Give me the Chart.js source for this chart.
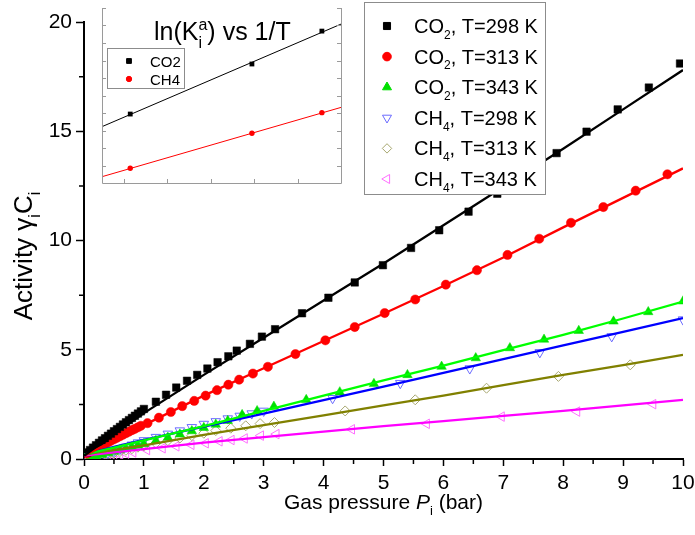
<!DOCTYPE html>
<html>
<head>
<meta charset="utf-8">
<script src="https://cdn.jsdelivr.net/npm/chart.js@4.4.0/dist/chart.umd.min.js"></script>
<style>
  html, body { margin: 0; padding: 0; background: #fff; }
  #wrap { position: relative; width: 695px; height: 535px; }
  canvas { position: absolute; left: 0; top: 0; }
</style>
</head>
<body>
<div id="wrap">
  <canvas id="main" width="695" height="535"></canvas>
  <canvas id="inset" width="695" height="535"></canvas>
</div>
<script>
// Donnees : pression (bar) et activite
const pCO2_298 = [0.05,0.1,0.15,0.2,0.25,0.3,0.35,0.4,0.45,0.5,0.55,0.6,0.65,0.7,0.75,0.8,0.85,0.9,0.95,1.0,
  1.2,1.37,1.54,1.72,1.89,2.06,2.23,2.41,2.55,2.77,2.97,3.19,
  3.64,4.08,4.52,4.99,5.46,5.93,6.42,6.9,7.4,7.89,8.39,8.91,9.43,9.95];
const aCO2_298 = [0.30,0.41,0.52,0.63,0.74,0.85,0.95,1.06,1.16,1.27,1.37,1.47,1.58,1.68,1.78,1.88,1.98,2.08,2.18,2.29,
  2.62,2.94,3.27,3.58,3.85,4.14,4.43,4.70,4.96,5.27,5.60,5.94,
  6.67,7.38,8.08,8.87,9.66,10.47,11.32,12.14,13.05,14.0,14.98,16.0,17.0,18.1];

const pCO2_313 = [0.05,0.1,0.15,0.2,0.25,0.3,0.35,0.4,0.45,0.5,0.55,0.6,0.65,0.7,0.75,0.8,0.85,0.9,0.95,
  1.06,1.25,1.45,1.64,1.84,2.03,2.22,2.41,2.59,2.82,3.07,
  3.53,4.03,4.52,5.02,5.53,6.04,6.56,7.07,7.6,8.13,8.67,9.21,9.74];
const aCO2_313 = [0.25,0.32,0.40,0.47,0.54,0.61,0.69,0.76,0.83,0.90,0.97,1.04,1.11,1.18,1.25,1.32,1.38,1.45,1.52,
  1.64,1.89,2.15,2.42,2.66,2.90,3.15,3.40,3.63,3.91,4.22,
  4.80,5.43,6.04,6.68,7.30,7.98,8.64,9.34,10.08,10.81,11.53,12.28,13.03];

const pCO2_343 = [0.1,0.2,0.3,0.4,0.5,0.6,0.7,0.8,0.9,1.0,
  1.2,1.4,1.6,1.8,2.0,2.2,2.4,2.64,2.89,3.17,
  3.71,4.27,4.84,5.4,5.97,6.54,7.11,7.68,8.26,8.84,9.42,10.0];
const aCO2_343 = [0.05,0.13,0.20,0.27,0.34,0.41,0.48,0.55,0.62,0.69,
  0.84,0.98,1.13,1.28,1.43,1.58,1.75,2.02,2.20,2.40,
  2.71,3.06,3.44,3.85,4.23,4.62,5.08,5.47,5.87,6.30,6.73,7.22];

const pCH4_298 = [0.1,0.2,0.3,0.4,0.5,0.6,0.7,0.8,0.9,1.0,
  1.2,1.4,1.6,1.8,2.0,2.2,2.4,2.6,2.8,3.0,
  4.15,5.28,6.44,7.61,8.81,10.0];
const aCH4_298 = [0.02,0.10,0.18,0.27,0.35,0.45,0.55,0.65,0.75,0.85,
  1.0,1.15,1.3,1.45,1.6,1.72,1.85,1.97,2.08,2.2,
  2.78,3.47,4.14,4.88,5.61,6.38];

const pCH4_313 = [0.1,0.2,0.3,0.4,0.5,0.6,0.7,0.8,0.9,1.0,
  1.2,1.4,1.6,1.8,2.0,2.2,2.45,2.7,2.94,3.18,
  4.36,5.53,6.72,7.92,9.12];
const aCH4_313 = [0.0,0.07,0.14,0.20,0.27,0.34,0.40,0.47,0.54,0.60,
  0.72,0.84,0.96,1.07,1.18,1.30,1.41,1.52,1.62,1.67,
  2.20,2.71,3.24,3.78,4.31];

const pCH4_343 = [0.1,0.2,0.3,0.4,0.5,0.6,0.7,
  0.82,1.05,1.31,1.54,1.79,2.03,2.26,2.46,2.68,2.95,3.21,
  4.47,5.72,6.97,8.23,9.5];
const aCH4_343 = [0.0,0.04,0.08,0.12,0.16,0.20,0.25,
  0.30,0.41,0.49,0.58,0.65,0.72,0.81,0.87,0.94,1.07,1.14,
  1.36,1.61,1.94,2.17,2.51];

// courbes ajustees
const fitP = [0, 0.5, 1, 2, 3, 4, 5, 6, 7, 8, 9, 10];
const fitCO2_298 = [0.15, 1.15, 2.1, 3.85, 5.55, 7.25, 8.95, 10.7, 12.45, 14.2, 16.0, 17.8];
const fitCO2_313 = [0.15, 0.85, 1.55, 2.9, 4.15, 5.4, 6.65, 7.92, 9.22, 10.6, 11.95, 13.3];
const fitCO2_343 = [0.2, 0.52, 0.85, 1.5, 2.2, 2.9, 3.6, 4.27, 4.98, 5.68, 6.43, 7.2];
const fitCH4_298 = [0.2, 0.55, 0.87, 1.48, 2.08, 2.69, 3.31, 3.94, 4.57, 5.2, 5.82, 6.45];
const fitCH4_313 = [0.2, 0.42, 0.62, 1.1, 1.55, 2.0, 2.45, 2.9, 3.38, 3.85, 4.3, 4.77];
const fitCH4_343 = [0.15, 0.3, 0.45, 0.75, 1.0, 1.25, 1.5, 1.73, 1.97, 2.2, 2.45, 2.71];

const xTickValues = [0,1,2,3,4,5,6,7,8,9,10];
const yTickValues = [0,5,10,15,20];

// encart ln(K) vs 1/T (1000/T)
const invT = [2.915, 3.195, 3.356];
const lnK_CO2 = [1.97, 3.40, 4.34];
const lnK_CH4 = [0.42, 1.42, 2.01];
const fitInvT = [2.85, 3.40];
const fitLnK_CO2 = [1.61, 4.54];
const fitLnK_CH4 = [0.18, 2.16];

const FAM = '"Liberation Sans", Arial, sans-serif';

function pts(xs, ys) {
  return xs.map((x, i) => ({ x: x, y: ys[i] }));
}

const series = [
  { p: pCO2_298, a: aCO2_298, fit: fitCO2_298, gas: 'CO', sub: '2', T: '298',
    mark: '#000000', line: '#000000', ps: 'rect', r: 5.3, rot: 0, filled: true },
  { p: pCO2_313, a: aCO2_313, fit: fitCO2_313, gas: 'CO', sub: '2', T: '313',
    mark: '#ff0000', line: '#ff0000', ps: 'circle', r: 4.6, rot: 0, filled: true },
  { p: pCO2_343, a: aCO2_343, fit: fitCO2_343, gas: 'CO', sub: '2', T: '343',
    mark: '#00e000', line: '#00ff00', ps: 'triangle', r: 5.5, rot: 0, filled: true },
  { p: pCH4_298, a: aCH4_298, fit: fitCH4_298, gas: 'CH', sub: '4', T: '298',
    mark: '#6b6bff', line: '#0000ff', ps: 'triangle', r: 5.5, rot: 180, filled: false },
  { p: pCH4_313, a: aCH4_313, fit: fitCH4_313, gas: 'CH', sub: '4', T: '313',
    mark: '#a8a870', line: '#808000', ps: 'rectRot', r: 5, rot: 0, filled: false },
  { p: pCH4_343, a: aCH4_343, fit: fitCH4_343, gas: 'CH', sub: '4', T: '343',
    mark: '#ff70ff', line: '#ff00ff', ps: 'triangle', r: 5.5, rot: -90, filled: false }
];

const datasets = [];
series.forEach(s => {
  datasets.push({
    data: pts(s.p, s.a), showLine: false, order: 1,
    pointStyle: s.ps, pointRadius: s.r, pointRotation: s.rot,
    backgroundColor: s.filled ? s.mark : 'rgba(0,0,0,0)',
    borderColor: s.mark, borderWidth: s.filled ? 0.5 : 1
  });
  datasets.push({
    data: pts(fitP, s.fit), showLine: true, order: 0,
    borderColor: s.line, borderWidth: 2.3, pointRadius: 0, tension: 0, fill: false
  });
});

// texte avec indices / exposants
function richText(ctx, parts, x, y, size, align) {
  const fontOf = p => (p.it ? 'italic ' : '') + Math.round(p.s ? size * 0.62 : size) + 'px ' + FAM;
  let w = 0;
  const widths = parts.map(p => {
    ctx.font = fontOf(p);
    const m = ctx.measureText(p.t).width;
    if (!p.keep) w += m;
    return m;
  });
  let cx = align === 'center' ? x - w / 2 : x;
  ctx.textAlign = 'left';
  ctx.textBaseline = 'alphabetic';
  parts.forEach((p, i) => {
    ctx.font = fontOf(p);
    const dy = p.s === 'sub' ? size * 0.3 : (p.s === 'sup' ? -size * 0.42 : 0);
    ctx.fillText(p.t, cx, y + dy);
    if (!p.keep) cx += widths[i];
  });
}

function marker(ctx, s, x, y, r) {
  ctx.fillStyle = s.filled ? s.mark : 'rgba(0,0,0,0)';
  ctx.strokeStyle = s.mark;
  Chart.helpers.drawPoint(ctx, {
    pointStyle: s.ps, rotation: s.rot, radius: r, borderWidth: s.filled ? 0.5 : 1
  }, x, y);
}

const mainDecor = {
  id: 'mainDecor',
  afterDraw(chart) {
    const ctx = chart.ctx;
    const ca = chart.chartArea;
    const xs = chart.scales.x, ys = chart.scales.y;
    ctx.save();

    // petites graduations
    ctx.strokeStyle = '#000';
    ctx.lineWidth = 1.5;
    ctx.beginPath();
    for (let v = 0.5; v < 10; v += 1) {
      const px = xs.getPixelForValue(v);
      ctx.moveTo(px, ca.bottom + 1);
      ctx.lineTo(px, ca.bottom + 5);
    }
    for (let v = 2.5; v < 20; v += 5) {
      const py = ys.getPixelForValue(v);
      ctx.moveTo(ca.left - 1, py);
      ctx.lineTo(ca.left - 5, py);
    }
    ctx.stroke();

    // titres des axes
    ctx.fillStyle = '#000';
    richText(ctx, [{ t: 'Gas pressure ' }, { t: 'P', it: true }, { t: 'i', s: 'sub' }, { t: ' (bar)' }],
      (ca.left + ca.right) / 2, 509, 21, 'center');
    ctx.save();
    ctx.translate(32, 256);
    ctx.rotate(-Math.PI / 2);
    richText(ctx, [{ t: 'Activity ' }, { t: 'γ' }, { t: 'i', s: 'sub' }, { t: 'C' }, { t: 'i', s: 'sub' }],
      0, 0, 26, 'center');
    ctx.restore();

    // legende
    ctx.fillStyle = '#fff';
    ctx.fillRect(364.5, 2.5, 181, 192);
    ctx.strokeStyle = '#8c8c8c';
    ctx.lineWidth = 1;
    ctx.strokeRect(364.5, 2.5, 181, 192);
    series.forEach((s, i) => {
      const cy = 26 + i * 30.6;
      marker(ctx, s, 387, cy, s.r - 0.3);
      ctx.fillStyle = '#000';
      richText(ctx, [{ t: s.gas }, { t: s.sub, s: 'sub' }, { t: ', T=' + s.T + ' K' }], 414, cy + 7, 19.5, 'left');
    });
    ctx.restore();
  }
};

new Chart(document.getElementById('main'), {
  type: 'scatter',
  data: { datasets: datasets },
  options: {
    responsive: false,
    animation: false,
    devicePixelRatio: 1,
    events: [],
    layout: { padding: { top: 22, right: 12, left: 0, bottom: 0 } },
    plugins: { legend: { display: false }, tooltip: { enabled: false } },
    scales: {
      x: {
        type: 'linear', min: 0, max: 10,
        afterFit: s => { s.height = 76; s.paddingLeft = 0; s.paddingRight = 0; },
        afterBuildTicks: s => { s.ticks = xTickValues.map(v => ({ value: v })); },
        border: { display: true, color: '#000', width: 2 },
        grid: { drawOnChartArea: false, drawTicks: true, tickLength: 7, tickColor: '#000', tickWidth: 1.5 },
        ticks: { color: '#000', padding: 5, maxRotation: 0, font: { family: FAM, size: 21 } }
      },
      y: {
        type: 'linear', min: 0, max: 20,
        afterFit: s => { s.width = 84; s.paddingTop = 0; s.paddingBottom = 0; },
        afterBuildTicks: s => { s.ticks = yTickValues.map(v => ({ value: v })); },
        border: { display: true, color: '#000', width: 2 },
        grid: { drawOnChartArea: false, drawTicks: true, tickLength: 8, tickColor: '#000', tickWidth: 1.5 },
        ticks: { color: '#000', padding: 4, font: { family: FAM, size: 21 } }
      }
    }
  },
  plugins: [mainDecor]
});

// encart
const insetDecor = {
  id: 'insetDecor',
  afterDraw(chart) {
    const ctx = chart.ctx;
    const ca = chart.chartArea;
    const xs = chart.scales.x, ys = chart.scales.y;
    ctx.save();
    ctx.strokeStyle = '#9a9a9a';
    ctx.lineWidth = 1;
    ctx.beginPath();
    ctx.moveTo(ca.left + 0.5, ca.top);
    ctx.lineTo(ca.left + 0.5, ca.bottom + 0.5);
    ctx.lineTo(ca.right + 0.5, ca.bottom + 0.5);
    ctx.lineTo(ca.right + 0.5, ca.top);
    for (let v = 2.9; v <= 3.401; v += 0.1) {
      const px = Math.round(xs.getPixelForValue(v)) + 0.5;
      ctx.moveTo(px, ca.bottom);
      ctx.lineTo(px, ca.bottom - 4);
    }
    for (let v = 0.5; v <= 5.001; v += 0.5) {
      const py = Math.round(ys.getPixelForValue(v)) + 0.5;
      ctx.moveTo(ca.left, py);
      ctx.lineTo(ca.left + 4, py);
      ctx.moveTo(ca.right, py);
      ctx.lineTo(ca.right - 4, py);
    }
    ctx.stroke();

    ctx.fillStyle = '#000';
    richText(ctx, [{ t: 'ln(K' }, { t: 'i', s: 'sub', keep: true }, { t: 'a', s: 'sup' }, { t: ') vs 1/T' }],
      154, 40, 25, 'left');

    ctx.fillStyle = '#fff';
    ctx.fillRect(107.5, 48.5, 77, 40);
    ctx.strokeStyle = '#8c8c8c';
    ctx.strokeRect(107.5, 48.5, 77, 40);
    const items = [
      { name: 'CO2', s: { mark: '#000000', ps: 'rect', rot: 0, filled: true } },
      { name: 'CH4', s: { mark: '#ff0000', ps: 'circle', rot: 0, filled: true } }
    ];
    items.forEach((it, i) => {
      const cy = 61 + i * 18;
      marker(ctx, it.s, 129, cy, it.s.ps === 'rect' ? 3.4 : 2.7);
      ctx.fillStyle = '#000';
      richText(ctx, [{ t: it.name }], 150, cy + 5.5, 15, 'left');
    });
    ctx.restore();
  }
};

new Chart(document.getElementById('inset'), {
  type: 'scatter',
  data: {
    datasets: [
      { data: pts(invT, lnK_CO2), showLine: false, pointStyle: 'rect', pointRadius: 3.4,
        backgroundColor: '#000', borderColor: '#000', borderWidth: 0, order: 1 },
      { data: pts(invT, lnK_CH4), showLine: false, pointStyle: 'circle', pointRadius: 2.7,
        backgroundColor: '#ff0000', borderColor: '#ff0000', borderWidth: 0, order: 1 },
      { data: pts(fitInvT, fitLnK_CO2), showLine: true, pointRadius: 0, borderColor: '#000', borderWidth: 1, order: 0 },
      { data: pts(fitInvT, fitLnK_CH4), showLine: true, pointRadius: 0, borderColor: '#ff0000', borderWidth: 1, order: 0 }
    ]
  },
  options: {
    responsive: false,
    animation: false,
    devicePixelRatio: 1,
    events: [],
    layout: { padding: { left: 102, right: 354, top: 8, bottom: 352 } },
    plugins: { legend: { display: false }, tooltip: { enabled: false } },
    scales: {
      x: { type: 'linear', min: 2.85, max: 3.40, display: false },
      y: { type: 'linear', min: 0, max: 5, display: false }
    }
  },
  plugins: [insetDecor]
});
</script>
</body>
</html>
